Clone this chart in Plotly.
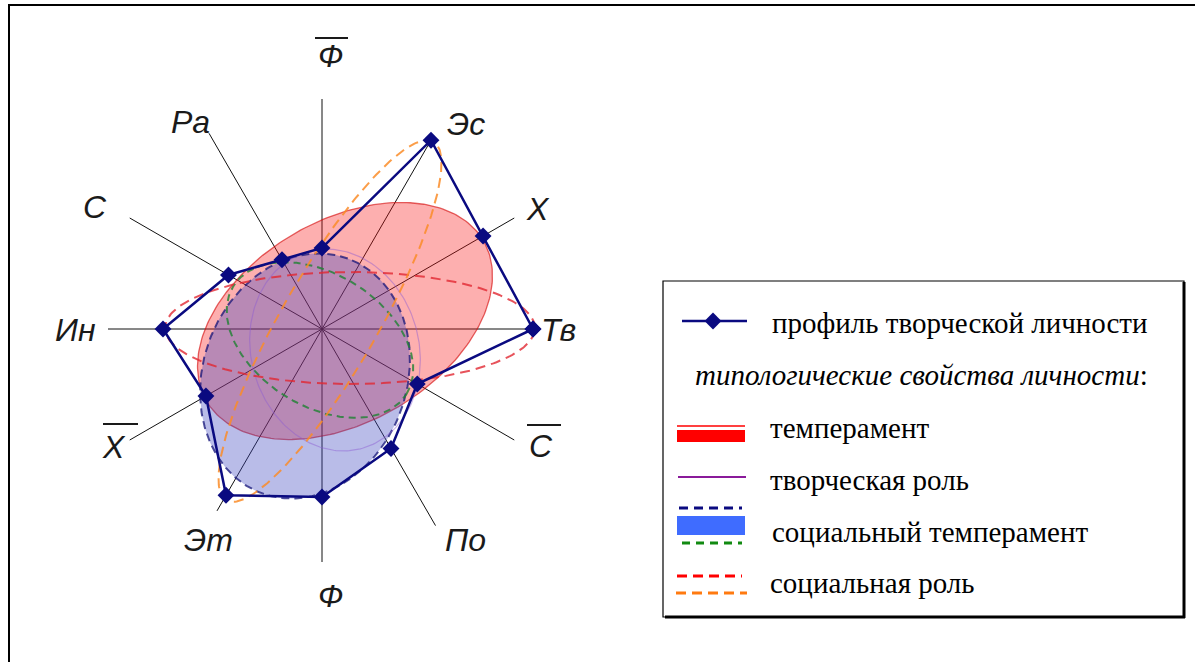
import numpy as np
import plotly.graph_objects as go

# ---------------- data ----------------
axis_angles = [0, 30, 60, 90, 120, 150, 180, 210, 240, 270, 300, 330]
axis_names = ["Тв", "Х", "Эс", "Ф̄", "Ра", "С", "Ин", "Х̄", "Эт", "Ф", "По", "С̄"]
profile_values = [10.55, 9.3, 10.9, 4.05, 4.0, 5.4, 7.95, 6.7, 9.6, 8.4, 6.9, 5.5]

# typological ellipses: centre, semi-axes, rotation (deg)
ell_names = ["темперамент", "социальный темперамент", "социальный темперамент (2)",
             "творческая роль", "социальная роль", "социальная роль (2)"]
ell_cx = [1.15, -0.85, -0.1, 0.65, 1.4, 0.4]
ell_cy = [0.4, -2.35, -0.55, -1.05, 0.05, 0.4]
ell_a = [8.0, 6.25, 5.1, 5.1, 9.25, 10.35]
ell_b = [5.05, 5.1, 3.3, 4.2, 2.8, 2.4]
ell_rot = [30, 70, -32, 105, 0, 60]

legend_labels = ["профиль творческой личности",
                 "<i>типологические свойства личности</i>:",
                 "темперамент", "творческая роль",
                 "социальный темперамент", "социальная роль"]

# ---------------- geometry helpers ----------------
W, H = 1195, 662
CX, CY, S = 322, 329, 20.0  # pixel centre and px per unit


def dx(px):
    return (px - CX) / S


def dy(py):
    return (CY - py) / S


def ellipse(cx, cy, a, b, rot, n=240):
    t = np.linspace(0, 2 * np.pi, n)
    th = np.radians(rot)
    x = cx + a * np.cos(t) * np.cos(th) - b * np.sin(t) * np.sin(th)
    y = cy + a * np.cos(t) * np.sin(th) + b * np.sin(t) * np.cos(th)
    return x, y


fig = go.Figure()

# radial axis lines
axis_len = [10.6, 11.1, 10.9, 11.5, 11.3, 11.1, 10.7, 11.1, 10.5, 11.65, 11.35, 11.1]
for ang, ln in zip(axis_angles, axis_len):
    th = np.radians(ang)
    fig.add_trace(go.Scatter(x=[0, ln * np.cos(th)], y=[0, ln * np.sin(th)], mode="lines",
                             line=dict(color="#111111", width=1), hoverinfo="skip",
                             showlegend=False))

styles = [
    dict(fill="rgba(250,20,20,0.34)", line=dict(color="rgba(210,0,0,0.6)", width=1.3)),
    dict(fill="rgba(60,70,190,0.36)", line=dict(color="rgba(20,20,120,0.75)", width=2, dash="8px,5px")),
    dict(fill=None, line=dict(color="rgba(30,130,50,0.8)", width=2, dash="7px,5px")),
    dict(fill=None, line=dict(color="rgba(140,90,210,0.45)", width=1.2)),
    dict(fill=None, line=dict(color="rgba(225,40,50,0.8)", width=2, dash="10px,6px")),
    dict(fill=None, line=dict(color="rgba(250,140,40,0.85)", width=2, dash="10px,6px")),
]
for i in range(len(ell_names)):
    x, y = ellipse(ell_cx[i], ell_cy[i], ell_a[i], ell_b[i], ell_rot[i])
    st = styles[i]
    fig.add_trace(go.Scatter(
        x=x, y=y, mode="lines", line=st["line"],
        fill="toself" if st["fill"] else None,
        fillcolor=st["fill"] if st["fill"] else None,
        hoverinfo="skip", showlegend=False, name=ell_names[i]))

# profile polygon
ths = np.radians(axis_angles + [axis_angles[0]])
rv = np.array(profile_values + [profile_values[0]])
fig.add_trace(go.Scatter(x=rv * np.cos(ths), y=rv * np.sin(ths), mode="lines+markers",
                         line=dict(color="#0a0a80", width=2.5),
                         marker=dict(symbol="diamond", size=13, color="#0a0a80"),
                         name=legend_labels[0], showlegend=False))

# ---------------- axis labels ----------------
label_px = {"Тв": (558, 330), "Х": (538, 209), "Эс": (466, 124), "Ф̄": (330, 56),
            "Ра": (190, 122), "С": (95, 207), "Ин": (75, 330), "Х̄": (114, 447),
            "Эт": (208, 540), "Ф": (330, 596), "По": (465, 540), "С̄": (541, 446)}
over = {"Ф̄": (315, 348, 38), "Х̄": (103, 138, 424), "С̄": (527, 561, 425)}
annotations = []
shapes = []
for name in axis_names:
    px, py = label_px[name]
    base = name.replace("\u0304", "")
    annotations.append(dict(x=dx(px), y=dy(py), xref="x", yref="y", text="<i>" + base + "</i>",
                            showarrow=False, xanchor="center", yanchor="middle",
                            font=dict(family="Liberation Sans", size=32, color="#1a1a1a")))
    if name in over:
        x0, x1, yy = over[name]
        shapes.append(dict(type="line", xref="x", yref="y", x0=dx(x0), x1=dx(x1),
                           y0=dy(yy), y1=dy(yy), line=dict(color="#1a1a1a", width=2)))

# ---------------- custom legend ----------------
def pxl(x0, x1, y, color, width, dash="solid"):
    shapes.append(dict(type="line", xref="x", yref="y", x0=dx(x0), x1=dx(x1), y0=dy(y), y1=dy(y),
                       line=dict(color=color, width=width, dash=dash)))


def prect(x0, x1, y0, y1, color):
    shapes.append(dict(type="rect", xref="x", yref="y", x0=dx(x0), x1=dx(x1), y0=dy(y0), y1=dy(y1),
                       fillcolor=color, line=dict(width=0)))

# box
shapes.append(dict(type="rect", xref="x", yref="y", x0=dx(663), x1=dx(1184), y0=dy(281), y1=dy(617),
                   fillcolor="white", line=dict(color="black", width=1.2), layer="below"))
pxl(665, 1185, 617, "black", 3)
shapes.append(dict(type="line", xref="x", yref="y", x0=dx(1184), x1=dx(1184), y0=dy(282), y1=dy(618),
                   line=dict(color="black", width=3)))

pxl(682, 747, 321, "#0a0a80", 2.5)
fig.add_trace(go.Scatter(x=[dx(713)], y=[dy(321)], mode="markers",
                         marker=dict(symbol="diamond", size=13, color="#0a0a80"),
                         hoverinfo="skip", showlegend=False))
pxl(677, 745, 426, "red", 1.5)
prect(677, 745, 430, 442, "red")
pxl(678, 746, 477, "#8a1a9a", 2)
pxl(679, 742, 508, "#0a0a80", 3, "9px,6px")
prect(677, 745, 516, 535, "#3f6cff")
pxl(682, 742, 543, "#118a11", 3, "8px,6px")
pxl(677, 742, 576, "red", 3, "10px,6px")
pxl(676, 747, 593, "#ff7a10", 3, "10px,6px")

leg_pos = [(770, 323), (693, 375), (768, 428), (768, 480), (770, 532), (768, 583)]
for txt, (lx, ly) in zip(legend_labels, leg_pos):
    annotations.append(dict(x=dx(lx), y=dy(ly), xref="x", yref="y", text=txt, showarrow=False,
                            xanchor="left", yanchor="middle",
                            font=dict(family="Liberation Serif", size=29, color="black")))

# outer frame (top and left)
shapes.append(dict(type="line", xref="paper", yref="paper", x0=8 / W, x1=1, y0=1 - 5 / H, y1=1 - 5 / H,
                   line=dict(color="black", width=2)))
shapes.append(dict(type="line", xref="paper", yref="paper", x0=9 / W, x1=9 / W, y0=0, y1=1 - 5 / H,
                   line=dict(color="black", width=2)))

fig.update_layout(
    width=W, height=H, margin=dict(l=0, r=0, t=0, b=0),
    paper_bgcolor="white", plot_bgcolor="white",
    xaxis=dict(range=[dx(0), dx(W)], visible=False, fixedrange=True),
    yaxis=dict(range=[dy(H), dy(0)], visible=False, fixedrange=True),
    shapes=shapes, annotations=annotations, showlegend=False,
)
fig.write_html("out.html", config={"displayModeBar": False},
               post_script="document.body.style.margin='0';document.body.style.overflow='hidden';")
